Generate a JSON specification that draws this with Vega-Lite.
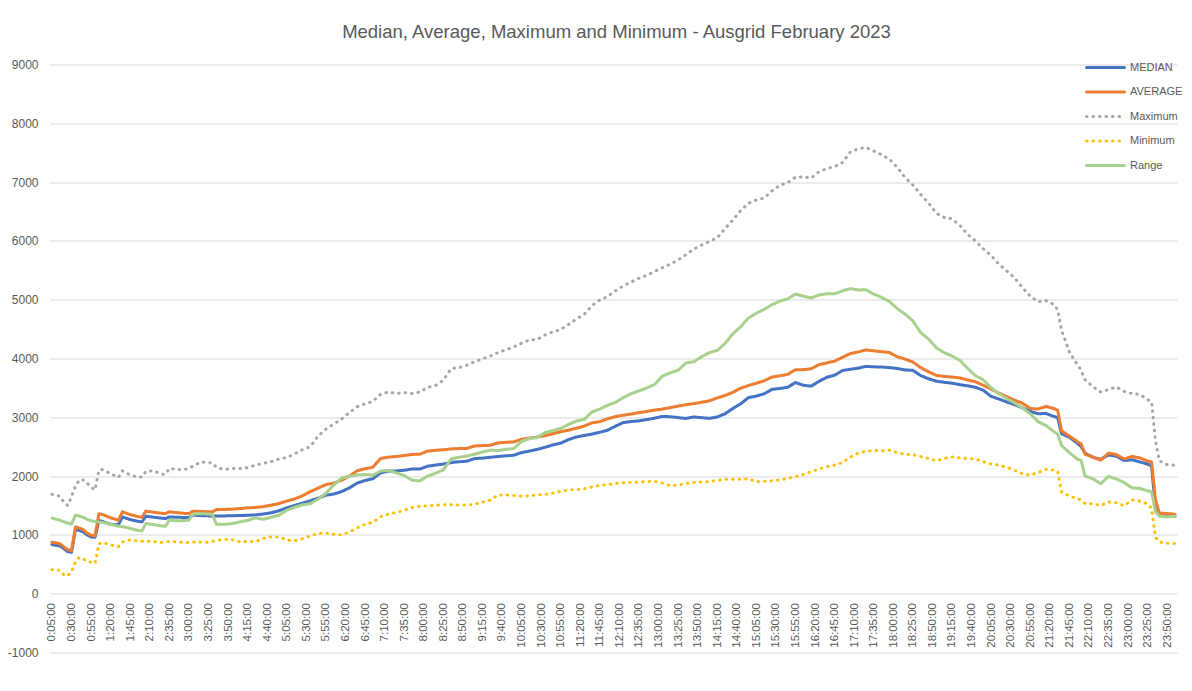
{
  "$schema": "https://vega.github.io/schema/vega-lite/v6.json",
  "autosize": "none",
  "width": 1127,
  "height": 588,
  "padding": {"left": 50, "top": 64.5, "right": 15, "bottom": 38.5},
  "background": "white",
  "title": {
    "text": "Median, Average, Maximum and Minimum - Ausgrid February 2023",
    "font": "Liberation Sans",
    "fontSize": 18.5,
    "fontWeight": "normal",
    "color": "#595959",
    "anchor": "middle",
    "offset": 15,
    "dx": 3
  },
  "data": {
    "values": [
      {"t":5,"MEDIAN":835,"AVERAGE":875,"Maximum":1690,"Minimum":409,"Range":1285},
      {"t":15,"MEDIAN":812,"AVERAGE":852,"Maximum":1659,"Minimum":397,"Range":1250},
      {"t":20,"MEDIAN":770,"AVERAGE":800,"Maximum":1562,"Minimum":324,"Range":1225},
      {"t":25,"MEDIAN":715,"AVERAGE":745,"Maximum":1500,"Minimum":300,"Range":1200},
      {"t":30,"MEDIAN":705,"AVERAGE":735,"Maximum":1650,"Minimum":380,"Range":1185},
      {"t":35,"MEDIAN":1090,"AVERAGE":1135,"Maximum":1830,"Minimum":540,"Range":1335},
      {"t":40,"MEDIAN":1075,"AVERAGE":1115,"Maximum":1935,"Minimum":620,"Range":1320},
      {"t":45,"MEDIAN":1050,"AVERAGE":1090,"Maximum":1935,"Minimum":590,"Range":1300},
      {"t":50,"MEDIAN":1000,"AVERAGE":1030,"Maximum":1880,"Minimum":555,"Range":1265},
      {"t":55,"MEDIAN":965,"AVERAGE":995,"Maximum":1810,"Minimum":535,"Range":1240},
      {"t":60,"MEDIAN":960,"AVERAGE":985,"Maximum":1765,"Minimum":515,"Range":1225},
      {"t":65,"MEDIAN":1245,"AVERAGE":1360,"Maximum":2100,"Minimum":850,"Range":1220},
      {"t":70,"MEDIAN":1225,"AVERAGE":1345,"Maximum":2113,"Minimum":869,"Range":1210},
      {"t":80,"MEDIAN":1180,"AVERAGE":1290,"Maximum":2040,"Minimum":830,"Range":1180},
      {"t":90,"MEDIAN":1175,"AVERAGE":1250,"Maximum":1980,"Minimum":800,"Range":1150},
      {"t":95,"MEDIAN":1305,"AVERAGE":1392,"Maximum":2090,"Minimum":880,"Range":1140},
      {"t":105,"MEDIAN":1260,"AVERAGE":1345,"Maximum":2020,"Minimum":915,"Range":1112},
      {"t":115,"MEDIAN":1230,"AVERAGE":1310,"Maximum":1980,"Minimum":895,"Range":1075},
      {"t":120,"MEDIAN":1220,"AVERAGE":1300,"Maximum":1985,"Minimum":890,"Range":1068},
      {"t":125,"MEDIAN":1318,"AVERAGE":1405,"Maximum":2080,"Minimum":897,"Range":1193},
      {"t":135,"MEDIAN":1300,"AVERAGE":1385,"Maximum":2090,"Minimum":885,"Range":1175},
      {"t":145,"MEDIAN":1285,"AVERAGE":1368,"Maximum":2035,"Minimum":872,"Range":1152},
      {"t":150,"MEDIAN":1278,"AVERAGE":1363,"Maximum":2030,"Minimum":880,"Range":1147},
      {"t":155,"MEDIAN":1306,"AVERAGE":1392,"Maximum":2130,"Minimum":890,"Range":1250},
      {"t":165,"MEDIAN":1300,"AVERAGE":1378,"Maximum":2113,"Minimum":880,"Range":1240},
      {"t":175,"MEDIAN":1295,"AVERAGE":1365,"Maximum":2113,"Minimum":869,"Range":1245},
      {"t":180,"MEDIAN":1295,"AVERAGE":1363,"Maximum":2130,"Minimum":872,"Range":1250},
      {"t":185,"MEDIAN":1335,"AVERAGE":1403,"Maximum":2170,"Minimum":880,"Range":1352},
      {"t":195,"MEDIAN":1328,"AVERAGE":1398,"Maximum":2240,"Minimum":880,"Range":1362},
      {"t":205,"MEDIAN":1323,"AVERAGE":1393,"Maximum":2230,"Minimum":872,"Range":1355},
      {"t":210,"MEDIAN":1323,"AVERAGE":1392,"Maximum":2227,"Minimum":890,"Range":1346},
      {"t":215,"MEDIAN":1323,"AVERAGE":1430,"Maximum":2150,"Minimum":905,"Range":1181},
      {"t":225,"MEDIAN":1323,"AVERAGE":1433,"Maximum":2113,"Minimum":923,"Range":1181},
      {"t":235,"MEDIAN":1325,"AVERAGE":1437,"Maximum":2128,"Minimum":920,"Range":1190},
      {"t":245,"MEDIAN":1330,"AVERAGE":1448,"Maximum":2130,"Minimum":880,"Range":1221},
      {"t":255,"MEDIAN":1333,"AVERAGE":1460,"Maximum":2145,"Minimum":890,"Range":1245},
      {"t":265,"MEDIAN":1340,"AVERAGE":1468,"Maximum":2185,"Minimum":885,"Range":1290},
      {"t":275,"MEDIAN":1355,"AVERAGE":1480,"Maximum":2215,"Minimum":940,"Range":1265},
      {"t":285,"MEDIAN":1375,"AVERAGE":1505,"Maximum":2245,"Minimum":966,"Range":1300},
      {"t":295,"MEDIAN":1410,"AVERAGE":1533,"Maximum":2290,"Minimum":966,"Range":1335},
      {"t":305,"MEDIAN":1460,"AVERAGE":1575,"Maximum":2315,"Minimum":915,"Range":1420},
      {"t":315,"MEDIAN":1500,"AVERAGE":1610,"Maximum":2380,"Minimum":900,"Range":1470},
      {"t":325,"MEDIAN":1540,"AVERAGE":1665,"Maximum":2450,"Minimum":935,"Range":1510},
      {"t":335,"MEDIAN":1580,"AVERAGE":1735,"Maximum":2500,"Minimum":980,"Range":1530},
      {"t":345,"MEDIAN":1625,"AVERAGE":1795,"Maximum":2680,"Minimum":1025,"Range":1610},
      {"t":355,"MEDIAN":1675,"AVERAGE":1855,"Maximum":2800,"Minimum":1030,"Range":1705},
      {"t":365,"MEDIAN":1695,"AVERAGE":1880,"Maximum":2885,"Minimum":1010,"Range":1850},
      {"t":375,"MEDIAN":1735,"AVERAGE":1930,"Maximum":2970,"Minimum":1000,"Range":1965},
      {"t":385,"MEDIAN":1800,"AVERAGE":2000,"Maximum":3080,"Minimum":1050,"Range":1995},
      {"t":395,"MEDIAN":1880,"AVERAGE":2090,"Maximum":3180,"Minimum":1120,"Range":2020},
      {"t":405,"MEDIAN":1925,"AVERAGE":2125,"Maximum":3228,"Minimum":1180,"Range":2028},
      {"t":415,"MEDIAN":1955,"AVERAGE":2150,"Maximum":3270,"Minimum":1215,"Range":2014},
      {"t":425,"MEDIAN":2055,"AVERAGE":2300,"Maximum":3395,"Minimum":1310,"Range":2085},
      {"t":435,"MEDIAN":2085,"AVERAGE":2322,"Maximum":3430,"Minimum":1355,"Range":2097},
      {"t":445,"MEDIAN":2088,"AVERAGE":2333,"Maximum":3405,"Minimum":1380,"Range":2055},
      {"t":455,"MEDIAN":2100,"AVERAGE":2350,"Maximum":3420,"Minimum":1420,"Range":2010},
      {"t":465,"MEDIAN":2120,"AVERAGE":2368,"Maximum":3403,"Minimum":1465,"Range":1930},
      {"t":475,"MEDIAN":2120,"AVERAGE":2372,"Maximum":3428,"Minimum":1488,"Range":1920},
      {"t":485,"MEDIAN":2168,"AVERAGE":2425,"Maximum":3510,"Minimum":1495,"Range":2000},
      {"t":495,"MEDIAN":2187,"AVERAGE":2438,"Maximum":3540,"Minimum":1503,"Range":2047},
      {"t":505,"MEDIAN":2205,"AVERAGE":2448,"Maximum":3630,"Minimum":1512,"Range":2105},
      {"t":515,"MEDIAN":2230,"AVERAGE":2462,"Maximum":3830,"Minimum":1515,"Range":2290},
      {"t":525,"MEDIAN":2245,"AVERAGE":2468,"Maximum":3845,"Minimum":1508,"Range":2320},
      {"t":535,"MEDIAN":2252,"AVERAGE":2470,"Maximum":3885,"Minimum":1508,"Range":2340},
      {"t":545,"MEDIAN":2298,"AVERAGE":2513,"Maximum":3945,"Minimum":1520,"Range":2372},
      {"t":555,"MEDIAN":2305,"AVERAGE":2518,"Maximum":3995,"Minimum":1556,"Range":2408},
      {"t":565,"MEDIAN":2320,"AVERAGE":2524,"Maximum":4040,"Minimum":1590,"Range":2440},
      {"t":575,"MEDIAN":2333,"AVERAGE":2565,"Maximum":4100,"Minimum":1680,"Range":2435},
      {"t":585,"MEDIAN":2345,"AVERAGE":2575,"Maximum":4150,"Minimum":1680,"Range":2455},
      {"t":595,"MEDIAN":2354,"AVERAGE":2581,"Maximum":4196,"Minimum":1670,"Range":2468},
      {"t":605,"MEDIAN":2400,"AVERAGE":2625,"Maximum":4260,"Minimum":1660,"Range":2590},
      {"t":615,"MEDIAN":2425,"AVERAGE":2645,"Maximum":4315,"Minimum":1665,"Range":2635},
      {"t":625,"MEDIAN":2455,"AVERAGE":2665,"Maximum":4325,"Minimum":1680,"Range":2655},
      {"t":635,"MEDIAN":2490,"AVERAGE":2688,"Maximum":4400,"Minimum":1690,"Range":2740},
      {"t":645,"MEDIAN":2530,"AVERAGE":2720,"Maximum":4455,"Minimum":1712,"Range":2775},
      {"t":655,"MEDIAN":2560,"AVERAGE":2755,"Maximum":4491,"Minimum":1740,"Range":2810},
      {"t":665,"MEDIAN":2620,"AVERAGE":2780,"Maximum":4580,"Minimum":1765,"Range":2880},
      {"t":675,"MEDIAN":2665,"AVERAGE":2815,"Maximum":4670,"Minimum":1770,"Range":2935},
      {"t":685,"MEDIAN":2690,"AVERAGE":2850,"Maximum":4750,"Minimum":1785,"Range":2965},
      {"t":695,"MEDIAN":2715,"AVERAGE":2905,"Maximum":4900,"Minimum":1815,"Range":3090},
      {"t":705,"MEDIAN":2745,"AVERAGE":2925,"Maximum":4995,"Minimum":1843,"Range":3140},
      {"t":715,"MEDIAN":2780,"AVERAGE":2975,"Maximum":5055,"Minimum":1855,"Range":3205},
      {"t":725,"MEDIAN":2850,"AVERAGE":3012,"Maximum":5150,"Minimum":1875,"Range":3255},
      {"t":735,"MEDIAN":2910,"AVERAGE":3035,"Maximum":5235,"Minimum":1885,"Range":3335},
      {"t":745,"MEDIAN":2928,"AVERAGE":3055,"Maximum":5300,"Minimum":1893,"Range":3400},
      {"t":755,"MEDIAN":2940,"AVERAGE":3078,"Maximum":5365,"Minimum":1900,"Range":3450},
      {"t":765,"MEDIAN":2961,"AVERAGE":3100,"Maximum":5415,"Minimum":1905,"Range":3499},
      {"t":775,"MEDIAN":2985,"AVERAGE":3122,"Maximum":5480,"Minimum":1912,"Range":3560},
      {"t":785,"MEDIAN":3015,"AVERAGE":3140,"Maximum":5545,"Minimum":1880,"Range":3700},
      {"t":795,"MEDIAN":3010,"AVERAGE":3165,"Maximum":5605,"Minimum":1838,"Range":3755},
      {"t":805,"MEDIAN":2995,"AVERAGE":3190,"Maximum":5675,"Minimum":1850,"Range":3800},
      {"t":815,"MEDIAN":2980,"AVERAGE":3215,"Maximum":5765,"Minimum":1875,"Range":3925},
      {"t":825,"MEDIAN":3006,"AVERAGE":3233,"Maximum":5860,"Minimum":1893,"Range":3945},
      {"t":835,"MEDIAN":2993,"AVERAGE":3255,"Maximum":5930,"Minimum":1900,"Range":4030},
      {"t":845,"MEDIAN":2982,"AVERAGE":3280,"Maximum":5990,"Minimum":1908,"Range":4100},
      {"t":855,"MEDIAN":3005,"AVERAGE":3330,"Maximum":6055,"Minimum":1925,"Range":4137},
      {"t":865,"MEDIAN":3060,"AVERAGE":3370,"Maximum":6208,"Minimum":1946,"Range":4255},
      {"t":875,"MEDIAN":3150,"AVERAGE":3425,"Maximum":6355,"Minimum":1946,"Range":4420},
      {"t":885,"MEDIAN":3230,"AVERAGE":3495,"Maximum":6515,"Minimum":1946,"Range":4540},
      {"t":895,"MEDIAN":3335,"AVERAGE":3540,"Maximum":6640,"Minimum":1955,"Range":4690},
      {"t":905,"MEDIAN":3360,"AVERAGE":3580,"Maximum":6695,"Minimum":1905,"Range":4770},
      {"t":915,"MEDIAN":3400,"AVERAGE":3620,"Maximum":6730,"Minimum":1910,"Range":4835},
      {"t":925,"MEDIAN":3475,"AVERAGE":3685,"Maximum":6850,"Minimum":1920,"Range":4915},
      {"t":935,"MEDIAN":3490,"AVERAGE":3705,"Maximum":6945,"Minimum":1935,"Range":4975},
      {"t":945,"MEDIAN":3510,"AVERAGE":3730,"Maximum":6990,"Minimum":1962,"Range":5015},
      {"t":955,"MEDIAN":3590,"AVERAGE":3810,"Maximum":7085,"Minimum":1990,"Range":5095},
      {"t":965,"MEDIAN":3545,"AVERAGE":3810,"Maximum":7090,"Minimum":2028,"Range":5060},
      {"t":975,"MEDIAN":3530,"AVERAGE":3825,"Maximum":7070,"Minimum":2075,"Range":5030},
      {"t":985,"MEDIAN":3610,"AVERAGE":3895,"Maximum":7175,"Minimum":2120,"Range":5080},
      {"t":995,"MEDIAN":3680,"AVERAGE":3925,"Maximum":7230,"Minimum":2160,"Range":5100},
      {"t":1005,"MEDIAN":3715,"AVERAGE":3955,"Maximum":7265,"Minimum":2185,"Range":5100},
      {"t":1015,"MEDIAN":3795,"AVERAGE":4020,"Maximum":7330,"Minimum":2230,"Range":5150},
      {"t":1025,"MEDIAN":3817,"AVERAGE":4083,"Maximum":7510,"Minimum":2320,"Range":5188},
      {"t":1035,"MEDIAN":3835,"AVERAGE":4110,"Maximum":7567,"Minimum":2390,"Range":5165},
      {"t":1045,"MEDIAN":3866,"AVERAGE":4145,"Maximum":7590,"Minimum":2420,"Range":5170},
      {"t":1055,"MEDIAN":3858,"AVERAGE":4130,"Maximum":7530,"Minimum":2437,"Range":5095},
      {"t":1065,"MEDIAN":3855,"AVERAGE":4115,"Maximum":7465,"Minimum":2430,"Range":5040},
      {"t":1075,"MEDIAN":3845,"AVERAGE":4102,"Maximum":7390,"Minimum":2440,"Range":4970},
      {"t":1085,"MEDIAN":3830,"AVERAGE":4030,"Maximum":7250,"Minimum":2400,"Range":4850},
      {"t":1095,"MEDIAN":3805,"AVERAGE":3990,"Maximum":7080,"Minimum":2370,"Range":4755},
      {"t":1105,"MEDIAN":3800,"AVERAGE":3940,"Maximum":6950,"Minimum":2366,"Range":4640},
      {"t":1115,"MEDIAN":3710,"AVERAGE":3845,"Maximum":6790,"Minimum":2330,"Range":4440},
      {"t":1125,"MEDIAN":3655,"AVERAGE":3775,"Maximum":6645,"Minimum":2300,"Range":4330},
      {"t":1135,"MEDIAN":3615,"AVERAGE":3712,"Maximum":6470,"Minimum":2258,"Range":4182},
      {"t":1145,"MEDIAN":3595,"AVERAGE":3695,"Maximum":6400,"Minimum":2300,"Range":4100},
      {"t":1155,"MEDIAN":3580,"AVERAGE":3684,"Maximum":6375,"Minimum":2326,"Range":4043},
      {"t":1165,"MEDIAN":3555,"AVERAGE":3669,"Maximum":6265,"Minimum":2309,"Range":3970},
      {"t":1175,"MEDIAN":3535,"AVERAGE":3635,"Maximum":6110,"Minimum":2298,"Range":3830},
      {"t":1185,"MEDIAN":3510,"AVERAGE":3605,"Maximum":6000,"Minimum":2290,"Range":3708},
      {"t":1195,"MEDIAN":3460,"AVERAGE":3545,"Maximum":5865,"Minimum":2245,"Range":3635},
      {"t":1205,"MEDIAN":3355,"AVERAGE":3480,"Maximum":5750,"Minimum":2205,"Range":3505},
      {"t":1215,"MEDIAN":3310,"AVERAGE":3410,"Maximum":5600,"Minimum":2188,"Range":3400},
      {"t":1225,"MEDIAN":3260,"AVERAGE":3350,"Maximum":5490,"Minimum":2150,"Range":3320},
      {"t":1235,"MEDIAN":3215,"AVERAGE":3290,"Maximum":5370,"Minimum":2100,"Range":3245},
      {"t":1245,"MEDIAN":3160,"AVERAGE":3240,"Maximum":5205,"Minimum":2040,"Range":3160},
      {"t":1255,"MEDIAN":3100,"AVERAGE":3150,"Maximum":5060,"Minimum":2015,"Range":3060},
      {"t":1265,"MEDIAN":3060,"AVERAGE":3140,"Maximum":4965,"Minimum":2060,"Range":2925},
      {"t":1275,"MEDIAN":3065,"AVERAGE":3185,"Maximum":4985,"Minimum":2116,"Range":2860},
      {"t":1285,"MEDIAN":3015,"AVERAGE":3150,"Maximum":4920,"Minimum":2100,"Range":2760},
      {"t":1290,"MEDIAN":2995,"AVERAGE":3120,"Maximum":4830,"Minimum":2080,"Range":2715},
      {"t":1295,"MEDIAN":2720,"AVERAGE":2770,"Maximum":4480,"Minimum":1731,"Range":2520},
      {"t":1305,"MEDIAN":2660,"AVERAGE":2680,"Maximum":4110,"Minimum":1660,"Range":2400},
      {"t":1315,"MEDIAN":2560,"AVERAGE":2590,"Maximum":3900,"Minimum":1620,"Range":2290},
      {"t":1320,"MEDIAN":2500,"AVERAGE":2550,"Maximum":3800,"Minimum":1590,"Range":2265},
      {"t":1325,"MEDIAN":2390,"AVERAGE":2372,"Maximum":3640,"Minimum":1533,"Range":2000},
      {"t":1335,"MEDIAN":2320,"AVERAGE":2325,"Maximum":3520,"Minimum":1530,"Range":1955},
      {"t":1345,"MEDIAN":2285,"AVERAGE":2270,"Maximum":3430,"Minimum":1500,"Range":1870},
      {"t":1355,"MEDIAN":2360,"AVERAGE":2390,"Maximum":3470,"Minimum":1560,"Range":1995},
      {"t":1365,"MEDIAN":2337,"AVERAGE":2366,"Maximum":3516,"Minimum":1545,"Range":1950},
      {"t":1375,"MEDIAN":2265,"AVERAGE":2290,"Maximum":3440,"Minimum":1495,"Range":1890},
      {"t":1385,"MEDIAN":2278,"AVERAGE":2335,"Maximum":3403,"Minimum":1595,"Range":1800},
      {"t":1395,"MEDIAN":2240,"AVERAGE":2309,"Maximum":3390,"Minimum":1573,"Range":1790},
      {"t":1405,"MEDIAN":2205,"AVERAGE":2255,"Maximum":3300,"Minimum":1530,"Range":1750},
      {"t":1410,"MEDIAN":2167,"AVERAGE":2241,"Maximum":3262,"Minimum":1450,"Range":1731},
      {"t":1415,"MEDIAN":1450,"AVERAGE":1600,"Maximum":2600,"Minimum":960,"Range":1400},
      {"t":1420,"MEDIAN":1330,"AVERAGE":1370,"Maximum":2260,"Minimum":880,"Range":1318},
      {"t":1430,"MEDIAN":1318,"AVERAGE":1363,"Maximum":2195,"Minimum":860,"Range":1306},
      {"t":1440,"MEDIAN":1318,"AVERAGE":1352,"Maximum":2184,"Minimum":853,"Range":1318}
    ]
  },
  "transform": [
    {"fold": ["MEDIAN", "AVERAGE", "Maximum", "Minimum", "Range"], "as": ["series", "value"]}
  ],
  "mark": {"type": "line", "strokeWidth": 3, "strokeCap": "round", "strokeJoin": "round"},
  "encoding": {
    "x": {
      "field": "t",
      "type": "quantitative",
      "scale": {"domain": [2.5, 1442.5], "nice": false, "zero": false},
      "axis": {
        "values": [5,30,55,80,105,130,155,180,205,230,255,280,305,330,355,380,405,430,455,480,505,530,555,580,605,630,655,680,705,730,755,780,805,830,855,880,905,930,955,980,1005,1030,1055,1080,1105,1130,1155,1180,1205,1230,1255,1280,1305,1330,1355,1380,1405,1430],
        "labelExpr": "floor(datum.value/60) + ':' + (datum.value % 60 < 10 ? '0' : '') + (datum.value % 60) + ':00'",
        "labelAngle": 270,
        "offset": -59,
        "domain": false,
        "ticks": false,
        "grid": false,
        "title": null,
        "labelFont": "Liberation Sans",
        "labelFontSize": 11.5,
        "labelColor": "#595959",
        "labelPadding": 9,
        "labelOverlap": false,
        "labelBound": false,
        "labelFlush": false
      }
    },
    "y": {
      "field": "value",
      "type": "quantitative",
      "scale": {"domain": [-1000, 9000], "nice": false},
      "axis": {
        "values": [-1000,0,1000,2000,3000,4000,5000,6000,7000,8000,9000],
        "labelExpr": "'' + datum.value",
        "grid": true,
        "gridColor": "#D9D9D9",
        "gridWidth": 1,
        "domain": false,
        "ticks": false,
        "title": null,
        "labelFont": "Liberation Sans",
        "labelFontSize": 12,
        "labelColor": "#595959",
        "labelPadding": 12
      }
    },
    "color": {
      "field": "series",
      "type": "nominal",
      "scale": {
        "domain": ["MEDIAN", "AVERAGE", "Maximum", "Minimum", "Range"],
        "range": ["#4472C4", "#ED7D31", "#A5A5A5", "#FFC000", "#A9D18E"]
      },
      "legend": {
        "title": null,
        "orient": "none",
        "legendX": 1035,
        "legendY": -8,
        "symbolType": "stroke",
        "symbolSize": 1444,
        "symbolStrokeWidth": 3,
        "labelFont": "Liberation Sans",
        "labelFontSize": 11,
        "labelColor": "#595959",
        "labelOffset": 4,
        "clipHeight": 22,
        "rowPadding": 2.5,
        "encode": {"symbols": {"update": {"strokeCap": {"value": "round"}}}}
      }
    },
    "strokeDash": {
      "field": "series",
      "type": "nominal",
      "scale": {
        "domain": ["MEDIAN", "AVERAGE", "Maximum", "Minimum", "Range"],
        "range": [[1, 0], [1, 0], [0.5, 6], [0.5, 6], [1, 0]]
      },
      "legend": {
        "title": null,
        "orient": "none",
        "legendX": 1035,
        "legendY": -8,
        "symbolType": "stroke",
        "symbolSize": 1444,
        "symbolStrokeWidth": 3,
        "labelFont": "Liberation Sans",
        "labelFontSize": 11,
        "labelColor": "#595959",
        "labelOffset": 4,
        "clipHeight": 22,
        "rowPadding": 2.5,
        "encode": {"symbols": {"update": {"strokeCap": {"value": "round"}}}}
      }
    }
  },
  "config": {
    "view": {"stroke": null},
    "font": "Liberation Sans"
  }
}
